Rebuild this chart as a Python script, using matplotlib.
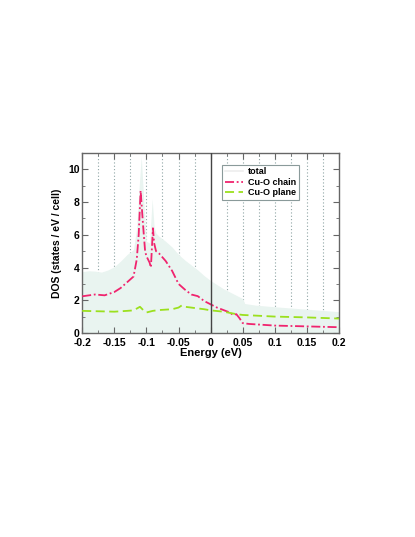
import numpy as np
import matplotlib
matplotlib.use("Agg")
import matplotlib.pyplot as plt
from matplotlib.ticker import MultipleLocator

plt.rcParams['font.family'] = ['Liberation Sans', 'DejaVu Sans']
plt.rcParams['font.weight'] = 'bold'

# total DOS (filled area)
total_e = [-0.2, -0.19, -0.18, -0.17, -0.16, -0.15, -0.14, -0.13, -0.125, -0.12,
           -0.115, -0.112, -0.108, -0.104, -0.1, -0.095, -0.091, -0.088, -0.085,
           -0.08, -0.07, -0.06, -0.05, -0.04, -0.03, -0.02, -0.01, 0.0, 0.01,
           0.02, 0.03, 0.04, 0.05, 0.053, 0.07, 0.1, 0.15, 0.2]
total_dos = [3.75, 3.8, 3.78, 3.72, 3.85, 4.05, 4.4, 4.8, 4.95, 5.1,
             6.5, 8.5, 10.8, 8.0, 5.6, 5.5, 8.2, 6.5, 6.1,
             5.9, 5.6, 5.25, 4.8, 4.45, 4.15, 3.85, 3.5, 3.2, 2.95,
             2.7, 2.5, 2.3, 2.1, 1.8, 1.7, 1.6, 1.45, 1.3]

# Cu-O chain
chain_e = [-0.2, -0.18, -0.165, -0.15, -0.14, -0.13, -0.12, -0.115, -0.112, -0.109,
           -0.105, -0.102, -0.1, -0.095, -0.093, -0.0898, -0.088, -0.085, -0.08,
           -0.07, -0.06, -0.05, -0.04, -0.03, -0.02, -0.01, 0.0, 0.01, 0.02,
           0.03, 0.035, 0.04, 0.045, 0.05, 0.06, 0.08, 0.1, 0.15, 0.2]
chain_dos = [2.24, 2.35, 2.3, 2.5, 2.75, 3.1, 3.45, 4.5, 6.0, 8.7,
             6.5, 5.0, 4.7, 4.3, 4.0, 6.4, 5.5, 5.0, 4.85,
             4.4, 3.8, 3.0, 2.65, 2.35, 2.25, 1.95, 1.75, 1.55, 1.4,
             1.25, 1.1, 1.15, 0.9, 0.6, 0.55, 0.5, 0.45, 0.4, 0.35]

# Cu-O plane
plane_e = [-0.2, -0.15, -0.13, -0.12, -0.11, -0.105, -0.1, -0.09, -0.08, -0.06,
           -0.05, -0.045, -0.04, -0.03, -0.02, -0.01, 0.0, 0.02, 0.04, 0.05,
           0.1, 0.15, 0.2]
plane_dos = [1.35, 1.3, 1.35, 1.38, 1.6, 1.4, 1.25, 1.35, 1.4, 1.45,
             1.55, 1.68, 1.6, 1.55, 1.5, 1.45, 1.38, 1.3, 1.15, 1.1,
             1.0, 0.95, 0.88]

fig = plt.figure(figsize=(4.15, 5.37), dpi=100)
ax = fig.add_axes([0.198, 0.380, 0.619, 0.335])

# dotted vertical grid every 0.025
for g in np.arange(-0.175, 0.2, 0.025):
    if abs(g) < 1e-9:
        continue
    ax.axvline(g, color='#8fa5a5', linestyle=(0, (1, 2)), linewidth=0.8, zorder=0)

ax.fill_between(total_e, total_dos, 0, color='#e9f4f0', linewidth=0, zorder=1)
ax.plot([], [], color='#eeeeee', linewidth=1.2, label='total')
ax.plot(chain_e, chain_dos, color='#f0246e', linewidth=1.3,
        linestyle=(0, (5, 1.5, 1, 1.5)), label='Cu-O chain', zorder=3)
ax.plot(plane_e, plane_dos, color='#9be01e', linewidth=1.3,
        linestyle=(0, (5, 2.5)), label='Cu-O plane', zorder=3)

ax.axvline(0, color='#444444', linewidth=1.0, zorder=4)

ax.set_xlim(-0.2, 0.2)
ax.set_ylim(0, 11)
xt = [-0.2, -0.15, -0.1, -0.05, 0, 0.05, 0.1, 0.15, 0.2]
ax.set_xticks(xt)
ax.set_xticklabels(['-0.2', '-0.15', '-0.1', '-0.05', '0', '0.05', '0.1', '0.15', '0.2'])
ax.xaxis.set_minor_locator(MultipleLocator(0.025))
ax.yaxis.set_major_locator(MultipleLocator(2))
ax.yaxis.set_minor_locator(MultipleLocator(1))
ax.tick_params(which='both', direction='in', top=True, right=True,
               color='#666666', labelsize=7.5)
ax.tick_params(axis='x', pad=4)
ax.tick_params(axis='y', pad=2)
ax.tick_params(which='major', length=4)
ax.tick_params(which='minor', length=2)
for s in ax.spines.values():
    s.set_color('#666666')
    s.set_linewidth(1.0)

ax.set_xlabel('Energy (eV)', fontsize=8, fontweight='bold', labelpad=0)
ax.set_ylabel('DOS (states / eV / cell)', fontsize=7.5, fontweight='bold', labelpad=4)

leg = ax.legend(loc='upper left', bbox_to_anchor=(0.545, 0.935), fontsize=6.5,
                frameon=True, fancybox=False, edgecolor='#8a9a9a', framealpha=1,
                handlelength=2.0, handletextpad=0.6, borderpad=0.3,
                labelspacing=0.15, borderaxespad=0)
leg.get_frame().set_linewidth(0.8)
leg.set_zorder(5)

fig.savefig('out.png', dpi=100)
